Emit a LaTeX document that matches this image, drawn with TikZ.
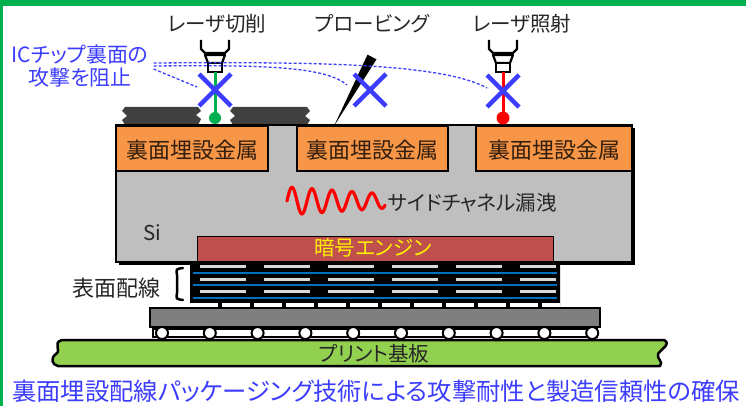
\documentclass[tikz,border=0pt]{standalone}
\usepackage{fontspec}
\setmainfont{Noto Sans CJK JP}[RawFeature=+palt]
\usetikzlibrary{calc}
\definecolor{greenframe}{RGB}{0,176,80}
\definecolor{metalorange}{RGB}{247,150,70}
\definecolor{sigray}{RGB}{191,191,191}
\definecolor{enginered}{RGB}{192,80,77}
\definecolor{boardgreen}{RGB}{146,208,80}
\definecolor{wireblue}{RGB}{0,112,192}
\definecolor{xblue}{RGB}{60,60,255}
\definecolor{inkgray}{RGB}{38,38,38}
\definecolor{debrisgray}{RGB}{64,64,64}
\definecolor{pkggray}{RGB}{127,127,127}
\definecolor{metaltext}{RGB}{50,30,15}
\tikzset{
  lbl/.style = {font=\fontsize{20.5}{24}\selectfont, text=inkgray, inner sep=0pt},
  blue lbl/.style = {font=\fontsize{21}{23}\selectfont, text=xblue, inner sep=0pt, align=center},
  metal lbl/.style = {font=\fontsize{22}{24}\selectfont, text=metaltext, inner sep=0pt},
  cross/.style = {xblue, line width=4.5pt},
  hint/.style = {xblue, line width=1.3pt, dash pattern=on 3pt off 2pt},
  beam/.style = {line width=3pt},
  head/.pic = {
    \draw [line width=2.2pt, line join=round] (-14,-32) -- (-14,-23) -- (-10,-19) -- (10,-19) -- (14,-23) -- (14,-32);
    \draw [line width=2.2pt, line join=round, fill=white] (-10,-17) -- (10,-17) -- (7,-9) -- (-7,-9) -- cycle;
    \draw [line width=2.2pt, fill=white] (-7,-9) rectangle (7,0);
  }
}

\begin{document}
\begin{tikzpicture}[x=1pt, y=-1pt]
\useasboundingbox (0,0) rectangle (746,406);
\fill [greenframe] (0,0) rectangle (746,6);
\fill [greenframe] (0,0) rectangle (3,406);

% residue left by cutting
\fill [debrisgray] (125,107) -- (198,107) -- (201,111) -- (196,115) -- (201,119) -- (198,125) -- (125,125) -- (122,120) -- (127,116) -- (122,111) -- cycle;
\fill [debrisgray] (233,107) -- (307,107) -- (310,111) -- (305,116) -- (310,120) -- (307,125) -- (233,125) -- (230,120) -- (235,116) -- (230,111) -- cycle;

% chip
\fill [black] (119,128) rectangle (635,265);
\draw [line width=2.5pt, fill=sigray] (116,125) rectangle (632,262);
\foreach \l/\r [count=\i] in {116/268, 297/448, 476/632} {
  \draw [line width=1.2pt, fill=metalorange] (\l,126) rectangle (\r,171);
  \node [metal lbl] (m\i) at ({(\l+\r)/2},150) {裏面埋設金属};
}
\draw [line width=1pt, fill=enginered] (197,236) rectangle (553,262);
\draw [line width=2.5pt] (116,125) rectangle (632,262);
\node [font=\fontsize{20.5}{24}\selectfont, text=yellow, inner sep=0pt] (eng) at (373,248) {暗号エンジン};
\node [lbl] (si) at (152,233) {Si};

\draw [red, line width=3.2pt, line cap=round] plot [domain=0:98, samples=160, smooth] ({287+\x}, {201 - (14-0.07*\x)*sin(\x*18)});
\node [lbl, anchor=west] (leak) at (388,203) {サイドチャネル漏洩};

% wiring layers
\fill [black, rounded corners=2pt] (190,262) rectangle (560,308);
\foreach \y in {266,279,291}
  \draw [white!85!black, line width=3pt, dash pattern=on 46pt off 18pt] (200,\y) -- (556,\y);
\foreach \y in {273,285,298}
  \draw [wireblue, line width=2.5pt] (193,\y) -- (557,\y);
\draw [white, line width=5pt, dash pattern=on 28pt off 4pt] (190,305.5) -- (560,305.5);
\node [font=\fontsize{22}{24}\selectfont, text=inkgray, inner sep=0pt] (wiring) at (116,288) {表面配線};
\draw [line width=2.5pt, line cap=round] (183,268) .. controls (176,269) .. (177,275) -- (177,293) .. controls (176,299) .. (183,300);

% package and board
\draw [line width=2.5pt, fill=pkggray] (150,308) rectangle (600,327);
\draw [line width=2pt, fill=white] (153,329) rectangle (597,337);
\foreach \i in {0,...,9}
  \draw [line width=2pt, fill=white] (162+47.8*\i,333) circle (6);
\draw [line width=2.5pt, line join=round, fill=boardgreen] (62,340) -- (664,340) .. controls (672,344) and (660,350) .. (658,354) .. controls (656,358) and (664,362) .. (660,366) -- (58,366) .. controls (52,365) and (50,358) .. (56,354) .. controls (62,350) and (52,343) .. (62,340) -- cycle;
\node [lbl] (pcb) at (374,354) {プリント基板};

% attacks
\pic at (215,72) {head};
\pic at (503,72) {head};
\coordinate (g0) at (215,72);
\coordinate (g1) at (215,118);
\coordinate (r0) at (503,72);
\coordinate (r1) at (503,118);
\draw [beam, greenframe] (g0) -- (g1);
\fill [greenframe] (g1) circle (6);
\draw [beam, red] (r0) -- (r1);
\fill [red] (r1) circle (6.5);
\fill (334,126) -- (367.5,54.7) -- (376.5,59.3) -- cycle;

\coordinate (x1) at (215,90);
\coordinate (x2) at (370,90);
\coordinate (x3) at (503,91);
\foreach \c in {x1,x2,x3}
  \draw [cross, shift={(\c)}] (-16,-16) -- (16,16) (-16,16) -- (16,-16);

\node [lbl] (cut) at (217,24) {レーザ切削};
\node [lbl] (probe) at (372,24) {プロービング};
\node [lbl] (shot) at (522,24) {レーザ照射};
\node [blue lbl] (block) at (80,66) {ICチップ裏面の\\攻撃を阻止};

\draw [hint] ($(block.east)+(5,3)$) -- ($(x1)+(-18,-3)$);
\draw [hint] ($(block.east)+(5,0)$) .. controls (260,65) and (325,66) .. ($(x2)+(-23,-5)$);
\draw [hint] ($(block.east)+(5,-3)$) .. controls (300,62) and (440,62) .. ($(x3)+(-16,-3)$);

\node [font=\fontsize{24.3}{28}\selectfont, text=xblue, inner sep=0pt] (goal) at (376,391) {裏面埋設配線パッケージング技術による攻撃耐性と製造信頼性の確保};
\end{tikzpicture}
\end{document}
